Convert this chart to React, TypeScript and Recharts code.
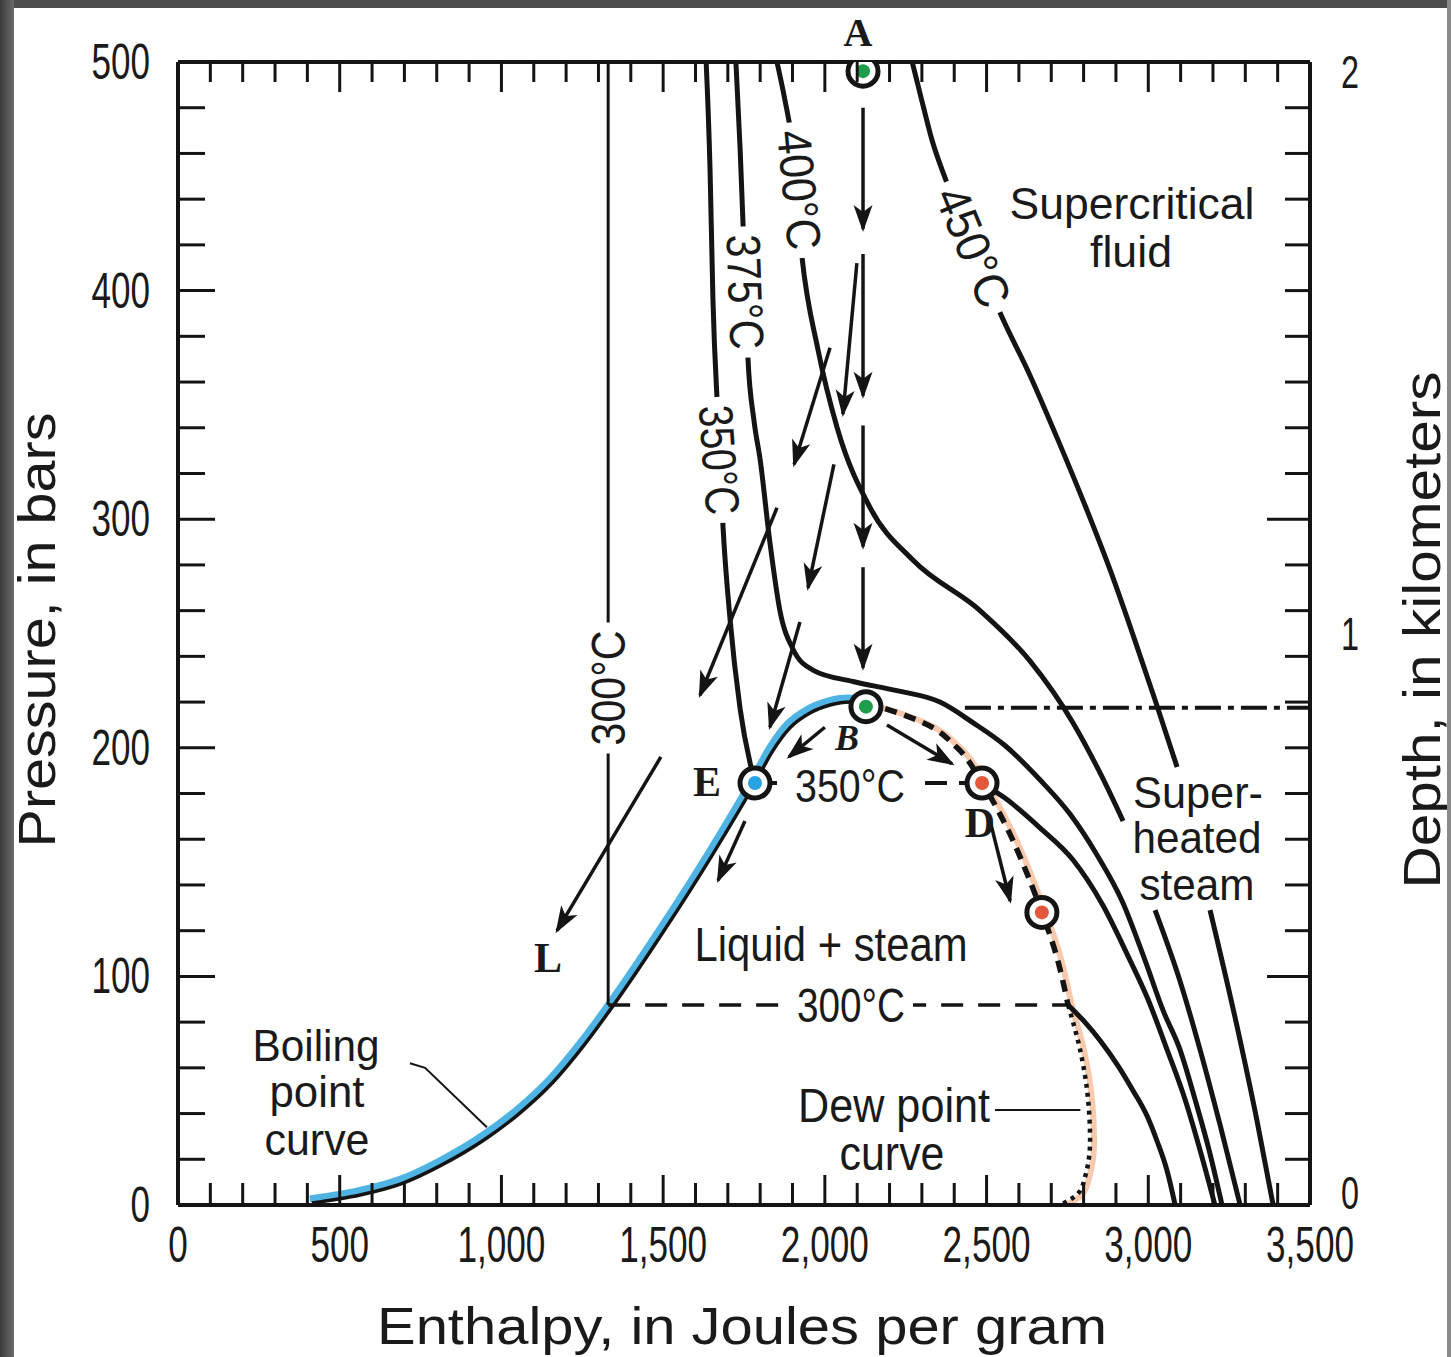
import React from 'react';
import { ComposedChart, Line, Scatter, XAxis, YAxis } from 'recharts';

// enthalpy in J/g (x), pressure in bars (y)
type Pt = { x: number; y: number | null };
const toPts = (a: (number | null)[][]): Pt[] => a.map(([x, y]) => ({ x: x as number, y }));

const boilingCurve = [
  [414, 0.9], [563, 4.4], [696, 9.6], [810, 17.1], [955, 29.3], [1057, 40.2], [1160, 53.8], [1258, 70.4],
  [1345, 87.1], [1500, 119.4], [1648, 152.2], [1784, 184.6], [1837, 198.2], [1892, 208.7], [1954, 215.2],
  [2016, 218.7], [2078, 220], [2127, 219.6],
];
const dewUpper = [
  [2127, 219.6], [2232, 215], [2304, 211], [2409, 200], [2486, 184.6], [2563, 165], [2625, 145],
  [2671, 128], [2712, 111], [2752, 87.5],
];
const dewLower = [[2752, 87.5], [2789, 68], [2814, 46], [2820, 28], [2804, 12], [2783, 5], [2727, 0]];

const iso300Liquid = [[1330, 500], [1330, 87.5]];
const iso300Flat = [[1330, 87.5], [2752, 87.5]];
const iso300Vapor = [
  [2752, 87.5], [2804, 80], [2851, 72], [2906, 61], [2953, 50], [2996, 39], [3027, 28], [3058, 15], [3083, 0],
];
const iso350Liquid = [[1633, 500], [1645, 453], [1654, 396], [1670, 343], [1685, 297], [1707, 256], [1738, 217], [1784, 184.6]];
const iso350Flat = [[1784, 184.6], [2486, 184.6]];
const iso350Vapor = [
  [2486, 184.6], [2557, 178], [2665, 165], [2767, 151], [2860, 131], [2937, 109], [2999, 90],
  [3058, 68], [3114, 46], [3160, 24], [3206, 0],
];
const iso375 = [
  [1725, 500], [1738, 462], [1750, 418], [1762, 371], [1781, 343], [1800, 326], [1830, 290], [1861, 260],
  [1902, 243], [1963, 234], [2087, 229], [2223, 225], [2356, 220], [2458, 211], [2557, 201], [2665, 186],
  [2758, 171], [2842, 153], [2919, 133], [2990, 107], [3046, 85], [3098, 68], [3145, 46], [3188, 24], [3228, 0],
];
const iso400 = [
  [1852, 500], [1877, 483], [1898, 466], [1929, 415], [1979, 374], [2038, 340], [2140, 305], [2273, 282],
  [2480, 260], [2634, 238], [2767, 211], [2851, 189], [2922, 168], [2970, null],
  [3021, 129], [3098, 98], [3160, 68], [3222, 35], [3284, 0],
];
const iso450 = [
  [2270, 500], [2300, 483], [2331, 466], [2378, 447], [2464, 418], [2538, 391.5], [2634, 363], [2721, 334.6],
  [2804, 306.2], [2882, 277.8], [2953, 249.3], [3021, 220.9], [3089, 191.6], [3140, null],
  [3191, 129], [3284, 72], [3336, 37], [3386, 0],
];
const criticalLine = [[2433, 217.5], [3500, 217.5]];

// arrows: [x1, y1, x2, y2]
const arrowsFromA = [
  [2118, 480, 2118, 427], [2118, 416, 2118, 354], [2118, 341, 2118, 288], [2118, 279, 2118, 235],
];
const fanArrows = [
  [2099, 412, 2056, 346], [2016, 375, 1905, 324], [2028, 324, 1948, 270],
  [1852, 305, 1614, 223], [1923, 255, 1830, 209], [1493, 196, 1172, 120],
];
const domeArrows = [
  [2000, 209, 1889, 196], [2192, 210, 2393, 193], [1753, 168, 1670, 142], [2511, 168, 2573, 133],
];
const boilingLeader = [[717, 62], [764, 60], [955, 34]];
const dewLeader = [[2526, 41.6], [2790, 41.6]];

const greenPoints = [{ x: 2118, y: 496 }, { x: 2127, y: 218 }];
const bluePoints = [{ x: 1784, y: 184.6 }];
const redPoints = [{ x: 2486, y: 184.6 }, { x: 2671, y: 128 }];

const X_TICKS = Array.from({ length: 36 }, (_, i) => i * 100);
const Y_TICKS = Array.from({ length: 26 }, (_, i) => i * 20);
const DEPTH_LABELS: Record<number, string> = { 0: '0', 250: '1', 500: '2' };
const RIGHT_TICKS = [...Y_TICKS, 250];

const W = 1451;
const H = 1357;
const INK = '#141414';
const SANS = "'Liberation Sans Narrow', 'Liberation Sans', Arial, sans-serif";
const SERIF = "'Liberation Serif', 'Times New Roman', serif";
const AXIS = { stroke: INK, strokeWidth: 4 };

const digitLen = (s: string) => s.replace(/,/g, '').length * 19.5 + (s.split(',').length - 1) * 10;

const BottomTick = (p: any) => {
  const v = p.payload.value as number;
  const major = v % 500 === 0;
  const label = major ? v.toLocaleString('en-US') : '';
  return (
    <g>
      {v > 0 && v < 3500 && (
        <line x1={p.x} x2={p.x} y1={p.y} y2={p.y - (major ? 30 : 22)} stroke={INK} strokeWidth={3} />
      )}
      {label && (
        <text x={p.x} y={p.y + 40} textAnchor="middle" dominantBaseline="central" fontFamily={SANS}
          fontSize={50} fill="#1a1a1a" textLength={digitLen(label)} lengthAdjust="spacingAndGlyphs">{label}</text>
      )}
    </g>
  );
};

const TopTick = (p: any) => {
  const v = p.payload.value as number;
  if (v <= 0 || v >= 3500) return <g />;
  return <line x1={p.x} x2={p.x} y1={p.y} y2={p.y + (v % 500 === 0 ? 30 : 20)} stroke={INK} strokeWidth={3} />;
};

const LeftTick = (p: any) => {
  const v = p.payload.value as number;
  const major = v % 100 === 0;
  return (
    <g>
      {v > 0 && v < 500 && (
        <line x1={p.x} x2={p.x + (major ? 37 : 27)} y1={p.y} y2={p.y} stroke={INK} strokeWidth={3} />
      )}
      {major && (
        <text x={p.x - 28} y={p.y} textAnchor="end" dominantBaseline="central" fontFamily={SANS}
          fontSize={50} fill="#1a1a1a" textLength={digitLen(String(v))} lengthAdjust="spacingAndGlyphs">{v}</text>
      )}
    </g>
  );
};

const RightTick = (p: any) => {
  const v = p.payload.value as number;
  const label = DEPTH_LABELS[v];
  const long = v === 100 || v === 300;
  const nudge = v === 0 ? -12 : v === 500 ? 10 : 0;
  return (
    <g>
      {v > 0 && v < 500 && v !== 250 && (
        <line x1={p.x} x2={p.x - (long ? 43 : 25)} y1={p.y} y2={p.y} stroke={INK} strokeWidth={3} />
      )}
      {label && (
        <text x={p.x + 40} y={p.y + nudge} textAnchor="middle" dominantBaseline="central" fontFamily={SANS}
          fontSize={46} fill="#1a1a1a" textLength={18} lengthAdjust="spacingAndGlyphs">{label}</text>
      )}
    </g>
  );
};

const makeMarker = (color: string) => (p: any) => (
  <g>
    <circle cx={p.cx} cy={p.cy} r={15} fill="#fff" stroke={INK} strokeWidth={5} />
    <circle cx={p.cx} cy={p.cy} r={7} fill={color} />
  </g>
);

const base = { dot: false, activeDot: false, isAnimationActive: false, legendType: 'none' as const };

function Txt({ x, y, len, size = 48, rot = 0, bg = false, serif = false, bold = false, italic = false, children }: any) {
  const h = size * 0.8;
  return (
    <g transform={`translate(${x},${y}) rotate(${rot})`}>
      {bg && <rect x={-len / 2 - 8} y={-h / 2} width={len + 16} height={h} fill="#fff" />}
      <text x={0} y={0} textAnchor="middle" dominantBaseline="central"
        fontFamily={serif ? SERIF : SANS} fontSize={size} fontWeight={bold ? 700 : 400}
        fontStyle={italic ? 'italic' : 'normal'} fill="#1a1a1a"
        {...(len && !serif ? { textLength: len, lengthAdjust: 'spacingAndGlyphs' } : {})}>
        {children}
      </text>
    </g>
  );
}

const arrowLine = (a: number[], key: string) => (
  <Line key={key} {...base} data={toPts([[a[0], a[1]], [a[2], a[3]]])} dataKey="y" type="linear"
    stroke={INK} strokeWidth={3.5} markerEnd="url(#ah)" />
);

export default function App() {
  const dewFull = [...dewUpper, ...dewLower.slice(1)];
  return (
    <div style={{ position: 'absolute', left: 0, top: 0, width: W, height: H, background: '#fff', overflow: 'hidden' }}>
      <style>{`.blueUnder path{transform:translate(-2px,-3px)} .peachUnder path{transform:translate(4px,1px)}`}</style>
      <ComposedChart width={W} height={H} margin={{ top: 0, right: 0, bottom: 0, left: 0 }}>
        <XAxis xAxisId={0} dataKey="x" type="number" domain={[0, 3500]} ticks={X_TICKS} interval={0}
          height={152} tickSize={0} tickMargin={0} axisLine={AXIS} tickLine={false} tick={BottomTick} allowDataOverflow />
        <XAxis xAxisId="top" orientation="top" dataKey="x" type="number" domain={[0, 3500]} ticks={X_TICKS}
          interval={0} height={62} tickSize={0} tickMargin={0} axisLine={AXIS} tickLine={false} tick={TopTick} allowDataOverflow />
        <YAxis yAxisId={0} dataKey="y" type="number" domain={[0, 500]} ticks={Y_TICKS} interval={0}
          width={178} tickSize={0} tickMargin={0} axisLine={AXIS} tickLine={false} tick={LeftTick} allowDataOverflow />
        <YAxis yAxisId="right" orientation="right" dataKey="y" type="number" domain={[0, 500]} ticks={RIGHT_TICKS}
          interval={0} width={141} tickSize={0} tickMargin={0} axisLine={AXIS} tickLine={false} tick={RightTick} allowDataOverflow />

        <Line {...base} className="blueUnder" data={toPts(boilingCurve)} dataKey="y" type="monotone" stroke="#4fb4e4" strokeWidth={9} />
        <Line {...base} className="peachUnder" data={toPts(dewFull)} dataKey="y" type="monotoneY" stroke="#f7c9ad" strokeWidth={6} />

        <Line {...base} data={toPts(iso300Liquid)} dataKey="y" type="linear" stroke={INK} strokeWidth={3} />
        <Line {...base} data={toPts(iso300Flat)} dataKey="y" type="linear" stroke={INK} strokeWidth={3.5} strokeDasharray="22 15" />
        <Line {...base} data={toPts(iso300Vapor)} dataKey="y" type="monotone" stroke={INK} strokeWidth={5} />
        <Line {...base} data={toPts(iso350Liquid)} dataKey="y" type="monotone" stroke={INK} strokeWidth={5} />
        <Line {...base} data={toPts(iso350Flat)} dataKey="y" type="linear" stroke={INK} strokeWidth={4} strokeDasharray="22 12" />
        <Line {...base} data={toPts(iso350Vapor)} dataKey="y" type="monotone" stroke={INK} strokeWidth={5} />
        <Line {...base} data={toPts(iso375)} dataKey="y" type="monotone" stroke={INK} strokeWidth={5} />
        <Line {...base} data={toPts(iso400)} dataKey="y" type="monotone" stroke={INK} strokeWidth={5} />
        <Line {...base} data={toPts(iso450)} dataKey="y" type="monotone" stroke={INK} strokeWidth={5} />
        <Line {...base} data={toPts(criticalLine)} dataKey="y" type="linear" stroke={INK} strokeWidth={4} strokeDasharray="26 7 6 7" />

        <Line {...base} data={toPts(boilingCurve)} dataKey="y" type="monotone" stroke={INK} strokeWidth={3.5} />
        <Line {...base} data={toPts(dewUpper)} dataKey="y" type="monotoneY" stroke={INK} strokeWidth={5.5} strokeDasharray="12 8" />
        <Line {...base} data={toPts(dewLower)} dataKey="y" type="monotoneY" stroke={INK} strokeWidth={4.5} strokeDasharray="4 5" />

        <Line {...base} data={toPts(boilingLeader)} dataKey="y" type="linear" stroke={INK} strokeWidth={2} />
        <Line {...base} data={toPts(dewLeader)} dataKey="y" type="linear" stroke={INK} strokeWidth={2} />

        {arrowsFromA.map((a, i) => arrowLine(a, `a${i}`))}
        {fanArrows.map((a, i) => arrowLine(a, `f${i}`))}
        {domeArrows.map((a, i) => arrowLine(a, `d${i}`))}

        <Scatter data={greenPoints} dataKey="y" isAnimationActive={false} shape={makeMarker('#1e9e4a')} legendType="none" />
        <Scatter data={bluePoints} dataKey="y" isAnimationActive={false} shape={makeMarker('#2aa3e4')} legendType="none" />
        <Scatter data={redPoints} dataKey="y" isAnimationActive={false} shape={makeMarker('#e4573a')} legendType="none" />
      </ComposedChart>

      <svg width={W} height={H} style={{ position: 'absolute', left: 0, top: 0, pointerEvents: 'none' }}>
        <defs>
          <marker id="ah" viewBox="-28 -11 32 22" refX="0" refY="0" markerWidth="32" markerHeight="22"
            markerUnits="userSpaceOnUse" orient="auto">
            <path d="M3,0 L-24,-9.5 L-17,0 L-24,9.5 Z" fill={INK} />
          </marker>
        </defs>

        {/* isotherm labels */}
        <Txt x={608} y={688} len={115} rot={-90} bg>300°C</Txt>
        <Txt x={719} y={460} len={110} rot={86} bg>350°C</Txt>
        <Txt x={745} y={292} len={115} rot={88} bg>375°C</Txt>
        <Txt x={799} y={190} len={120} rot={84.6} bg>400°C</Txt>
        <Txt x={973} y={247} len={125} rot={67.7} bg>450°C</Txt>
        <Txt x={850} y={786} len={110} size={46} bg>350°C</Txt>
        <Txt x={851} y={1005} len={108} bg>300°C</Txt>

        {/* region labels */}
        <Txt x={1132} y={203} len={245} size={44}>Supercritical</Txt>
        <Txt x={1131} y={251} len={82} size={44}>fluid</Txt>
        <Txt x={1198} y={792} len={130} size={44}>Super-</Txt>
        <Txt x={1197} y={837} len={129} size={44}>heated</Txt>
        <Txt x={1197} y={884} len={115} size={44}>steam</Txt>
        <Txt x={831} y={944} len={273}>Liquid + steam</Txt>
        <Txt x={316} y={1045} len={127} size={44}>Boiling</Txt>
        <Txt x={317} y={1091} len={95} size={44}>point</Txt>
        <Txt x={317} y={1139} len={105} size={44}>curve</Txt>
        <Txt x={894} y={1105} len={192}>Dew point</Txt>
        <Txt x={892} y={1153} len={105}>curve</Txt>

        {/* point letters */}
        <Txt x={858} y={32} size={40} serif bold>A</Txt>
        <Txt x={847} y={738} size={36} serif bold italic>B</Txt>
        <Txt x={707} y={782} size={42} serif bold>E</Txt>
        <Txt x={980} y={823} size={42} serif bold>D</Txt>
        <Txt x={548} y={958} size={42} serif bold>L</Txt>

        {/* axis titles */}
        <Txt x={742} y={1326} len={730} size={52}>Enthalpy, in Joules per gram</Txt>
        <Txt x={37} y={630} len={435} size={52} rot={-90}>Pressure, in bars</Txt>
        <Txt x={1422} y={630} len={517} size={52} rot={-90}>Depth, in kilometers</Txt>
      </svg>

      <div style={{ position: 'absolute', left: 0, top: 0, width: W, height: 8, background: '#4d4d4d' }} />
      <div style={{ position: 'absolute', left: 0, top: 0, width: 14, height: H, background: 'linear-gradient(90deg,#3c3c3c,#6a6a6a)' }} />
      <div style={{ position: 'absolute', left: W - 4, top: 0, width: 4, height: H, background: '#8a8a8a' }} />
    </div>
  );
}
